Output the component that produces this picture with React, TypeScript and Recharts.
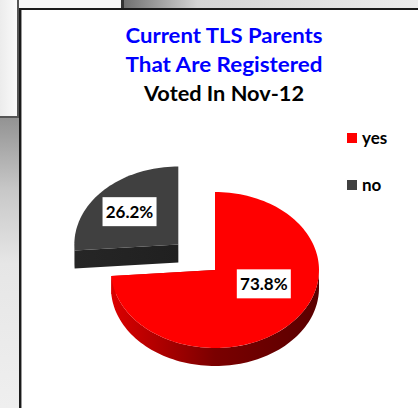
import React from "react";
import { PieChart, Pie, Cell, Legend } from "recharts";

const W = 418;
const H = 408;

// chart data
const categories = ["yes", "no"];
const shares = [73.8, 26.2];
const titleLines = ["Current TLS Parents", "That Are Registered", "Voted In Nov-12"];
const titleColors = ["#0000ff", "#0000ff", "#000000"];

const topColors = ["#ff0000", "#404040"];
const sideStops = [
  ["#dc0000", "#7a0000", "#5a0000"],
  ["#262626", "#202020", "#1c1c1c"],
];

const data = categories.map((name, i) => ({
  name,
  value: shares[i],
  label: `${shares[i].toFixed(1)}%`,
}));

// fake 3d, excel style
const TILT = 0.75; // ry / rx
const DEPTH = 18;
const EXPLODE: Record<string, number> = { no: 50 };
const RAD = Math.PI / 180;
const FONT = "Lato, 'Open Sans', sans-serif";

function offsetFor(name: string, midAngle: number) {
  const e = EXPLODE[name] || 0;
  return [Math.cos(midAngle * RAD) * e, -Math.sin(midAngle * RAD) * e * TILT];
}

function pt(cx: number, cy: number, r: number, a: number, dy = 0) {
  return [cx + r * Math.cos(a * RAD), cy - r * TILT * Math.sin(a * RAD) + dy];
}

function arcPts(cx: number, cy: number, r: number, a0: number, a1: number, dy = 0) {
  const n = Math.max(2, Math.ceil(Math.abs(a1 - a0) / 2));
  const out: number[][] = [];
  for (let i = 0; i <= n; i++) out.push(pt(cx, cy, r, a0 + ((a1 - a0) * i) / n, dy));
  return out;
}

const toPath = (pts: number[][]) =>
  "M" + pts.map((p) => `${p[0].toFixed(2)},${p[1].toFixed(2)}`).join("L") + "Z";

function Slice3D(props: any) {
  const { cx, cy, outerRadius: r, startAngle, endAngle, midAngle, index } = props;
  const name = props.name ?? props.payload?.name ?? categories[index];
  const i = categories.indexOf(name);
  const [ox, oy] = offsetFor(name, midAngle);
  const x = cx + ox;
  const y = cy + oy;
  const lo = Math.min(startAngle, endAngle);
  const hi = Math.max(startAngle, endAngle);
  const gid = `side-${i}`;

  // outer wall only where the rim faces us (lower half)
  const walls: string[] = [];
  for (const s of [-360, 0, 360]) {
    const a0 = Math.max(lo, -180 + s);
    const a1 = Math.min(hi, s);
    if (a1 > a0) {
      const top = arcPts(x, y, r, a0, a1);
      const bot = arcPts(x, y, r, a1, a0, DEPTH);
      walls.push(toPath([...top, ...bot]));
    }
  }
  // radial cut faces
  const cuts = [startAngle, endAngle].map((a) => {
    const e = pt(x, y, r, a);
    const eb = pt(x, y, r, a, DEPTH);
    return toPath([[x, y], e, eb, [x, y + DEPTH]]);
  });
  const topFace = toPath([[x, y], ...arcPts(x, y, r, startAngle, endAngle)]);
  const stops = sideStops[i];

  return (
    <g>
      <defs>
        <linearGradient id={gid} gradientUnits="userSpaceOnUse" x1={x - r} y1={0} x2={x + r} y2={0}>
          <stop offset="0" stopColor={stops[0]} />
          <stop offset="0.5" stopColor={stops[1]} />
          <stop offset="1" stopColor={stops[2]} />
        </linearGradient>
      </defs>
      {cuts.map((d, k) => (
        <path key={"c" + k} d={d} fill={`url(#${gid})`} />
      ))}
      {walls.map((d, k) => (
        <path key={"w" + k} d={d} fill={`url(#${gid})`} />
      ))}
      <path d={topFace} fill={topColors[i]} />
    </g>
  );
}

const renderLabel = (p: any) => {
  const { cx, cy, midAngle, outerRadius: r, index } = p;
  const d = data[index];
  const [ox, oy] = offsetFor(d.name, midAngle);
  const lx = cx + ox + Math.cos(midAngle * RAD) * r * 0.64;
  const ly = cy + oy - Math.sin(midAngle * RAD) * r * TILT * 0.44 - 9.5;
  return (
    <g key={"l" + index}>
      <rect x={lx - 27} y={ly - 14.5} width={54} height={29} fill="#fff" />
      <text
        x={lx}
        y={ly + 6}
        textAnchor="middle"
        fontFamily={FONT}
        fontWeight={700}
        fontSize={17}
        fill="#000"
      >
        {d.label}
      </text>
    </g>
  );
};

// legend keeps the data order (yes, no)
const renderLegend = () => (
  <div style={{ fontFamily: FONT, fontWeight: 700, fontSize: 17, color: "#000" }}>
    {categories.map((c, k) => (
      <div key={c} style={{ position: "absolute", left: 0, top: k * 47, height: 20, display: "flex", alignItems: "center" }}>
        <span style={{ width: 10, height: 10, background: topColors[k], display: "inline-block", marginRight: 5 }} />
        <span style={{ lineHeight: "20px" }}>{c}</span>
      </div>
    ))}
  </div>
);

function Frame() {
  return (
    <>
      {/* bits of the neighbouring sheets */}
      <div style={{ position: "absolute", left: 0, top: 0, width: 121, height: 8, background: "#f6f6f6" }} />
      <div style={{ position: "absolute", left: -48, top: -25, width: 56, height: 56, borderRadius: "50%", background: "#e00000", boxShadow: "inset -2px -2px 2px #700000" }} />
      <div style={{ position: "absolute", left: 121, top: 0, width: 3, height: 8, background: "#333" }} />
      <div style={{ position: "absolute", left: 124, top: 0, width: 294, height: 8, background: "linear-gradient(90deg,#707070 0%,#d4d4d4 25%,#ececec 100%)" }} />
      <div style={{ position: "absolute", left: 0, top: 0, width: 17, height: 116, background: "linear-gradient(90deg,#ececec,#fafafa)" }} />
      <div style={{ position: "absolute", left: 17, top: 0, width: 2, height: 116, background: "#555" }} />
      <div style={{ position: "absolute", left: 0, top: 116, width: 19, height: 2, background: "#555" }} />
      <div style={{ position: "absolute", left: 0, top: 118, width: 19, height: 290, background: "linear-gradient(180deg,#939393 0%,#c8c8c8 25%,#e6e6e6 50%,#efefef 100%)" }} />
      {/* chart box border */}
      <div style={{ position: "absolute", left: 19, top: 8, width: 399, height: 400, background: "#fff", borderLeft: "2px solid #1a1a1a", borderTop: "2px solid #1a1a1a", boxSizing: "border-box" }} />
      <div style={{ position: "absolute", left: 21, top: 10, width: 1, height: 398, background: "#999" }} />
    </>
  );
}

export default function App() {
  return (
    <div style={{ position: "fixed", left: 0, top: 0, width: W, height: H, overflow: "hidden", background: "#fff" }}>
      <Frame />
      <div style={{ position: "absolute", left: 0, top: 0 }}>
        <PieChart width={W} height={H} margin={{ top: 0, right: 0, bottom: 0, left: 0 }}>
          {titleLines.map((t, k) => (
            <text
              key={t}
              x={224}
              y={43 + k * 29}
              textAnchor="middle"
              fontFamily={FONT}
              fontWeight={700}
              fontSize={21}
              fill={titleColors[k]}
              textLength={k < 2 ? 197 : 160}
              lengthAdjust="spacingAndGlyphs"
            >
              {t}
            </text>
          ))}
          <Pie
            data={data}
            dataKey="value"
            nameKey="name"
            cx={215}
            cy={270}
            outerRadius={104}
            startAngle={90}
            endAngle={-270}
            stroke="none"
            isAnimationActive={false}
            shape={Slice3D}
            inactiveShape={Slice3D}
            activeShape={Slice3D}
            label={renderLabel}
            labelLine={false}
          >
            {data.map((d, i) => (
              <Cell key={d.name} fill={topColors[i]} />
            ))}
          </Pie>
          <Legend
            layout="vertical"
            align="right"
            verticalAlign="top"
            content={renderLegend}
            wrapperStyle={{ position: "absolute", left: 347, top: 128, width: 60, height: 80 }}
          />
        </PieChart>
      </div>
    </div>
  );
}
